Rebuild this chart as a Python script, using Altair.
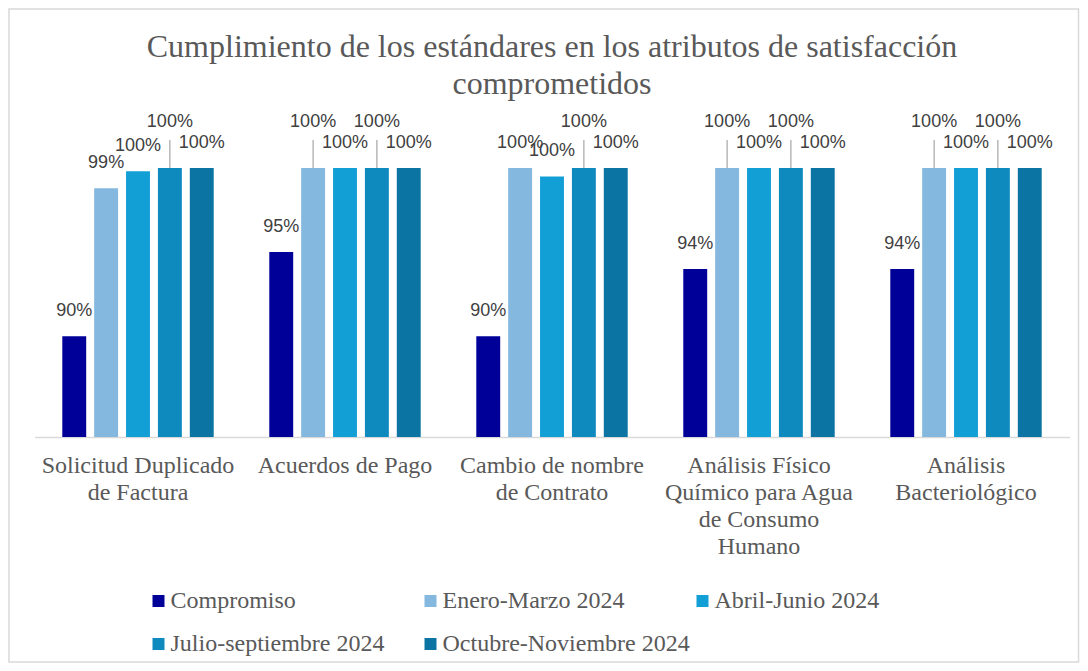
import altair as alt
import pandas as pd

# ---- data ----
categories = [
    "Solicitud Duplicado de Factura",
    "Acuerdos de Pago",
    "Cambio de nombre de Contrato",
    "Análisis Físico Químico para Agua de Consumo Humano",
    "Análisis Bacteriológico",
]
category_lines = [
    ["Solicitud Duplicado", "de Factura"],
    ["Acuerdos de Pago"],
    ["Cambio de nombre", "de Contrato"],
    ["Análisis Físico", "Químico para Agua", "de Consumo", "Humano"],
    ["Análisis", "Bacteriológico"],
]
series = [
    "Compromiso",
    "Enero-Marzo 2024",
    "Abril-Junio 2024",
    "Julio-septiembre 2024",
    "Octubre-Noviembre 2024",
]
compromiso = [90, 95, 90, 94, 94]
enero_marzo = [98.8, 100, 100, 100, 100]
abril_junio = [99.8, 100, 99.5, 100, 100]
julio_septiembre = [100, 100, 100, 100, 100]
octubre_noviembre = [100, 100, 100, 100, 100]

# which data labels are lifted above their neighbours (with a leader line)
label_lifted = [
    [False, False, False, True, False],
    [False, True, False, True, False],
    [False, False, False, True, False],
    [False, True, False, True, False],
    [False, True, False, True, False],
]

colors = ["#000099", "#85B8DF", "#129FD6", "#0E8ABE", "#0B74A3"]

values = [compromiso, enero_marzo, abril_junio, julio_septiembre, octubre_noviembre]
rows = []
for si, s in enumerate(series):
    for ci, c in enumerate(categories):
        rows.append({"categoria": c, "serie": s, "valor": values[si][ci],
                     "lifted": label_lifted[ci][si]})
df = pd.DataFrame(rows)

W, H = 1035, 269
PAD = {"left": 26.5, "top": 160, "right": 10, "bottom": 226}

# label expression for wrapped category names
expr = "datum.label"
for c, lines in zip(categories, category_lines):
    arr = "[" + ",".join("'" + l + "'" for l in lines) + "]"
    expr = f"datum.label == '{c}' ? {arr} : ({expr})"

x = alt.X("categoria:N", sort=categories, title=None,
          scale=alt.Scale(paddingInner=0.23, paddingOuter=0.115),
          axis=alt.Axis(labelExpr=expr, labelAngle=0, labelFont="Liberation Serif",
                        labelFontSize=24, labelColor="#595959", labelLineHeight=27,
                        labelPadding=16, labelLimit=400, ticks=False,
                        domainColor="#D9D9D9", domainWidth=1.5))
xo = alt.XOffset("serie:N", sort=series,
                 scale=alt.Scale(paddingInner=0.25, paddingOuter=0.125))
y = alt.Y("valor:Q", axis=None,
          scale=alt.Scale(domain=[84, 100], zero=False, nice=False, clamp=True))

base = alt.Chart(df).transform_calculate(pct="datum.valor / 100")

bars = base.mark_bar().encode(
    x=x, xOffset=xo, y=y,
    color=alt.Color("serie:N", sort=series,
                    scale=alt.Scale(domain=series, range=colors),
                    legend=alt.Legend(title=None, orient="none", legendX=112, legendY=421,
                                      direction="horizontal",
                                      columns=3, gridAlign="all", columnPadding=0,
                                      rowPadding=19, symbolType="square", symbolSize=144,
                                      symbolStrokeWidth=0, labelFont="Liberation Serif",
                                      labelFontSize=24, labelColor="#595959",
                                      labelOffset=0, labelLimit=400)),
)

label_common = dict(font="Liberation Sans", fontSize=18, color="#404040", baseline="middle")
labels_normal = base.transform_filter("!datum.lifted").mark_text(dy=-25, **label_common).encode(
    x=x, xOffset=xo, y=y, text=alt.Text("pct:Q", format=".0%"))
labels_lifted = base.transform_filter("datum.lifted").mark_text(dy=-46, **label_common).encode(
    x=x, xOffset=xo, y=y, text=alt.Text("pct:Q", format=".0%"))
leaders = base.transform_filter("datum.lifted").transform_calculate(v2="datum.valor").mark_rule(
    color="#A6A6A6", strokeWidth=1.2, y2Offset=-28).encode(
    x=x, xOffset=xo, y=y, y2="v2:Q")

frame = alt.Chart(pd.DataFrame({"f": [0]})).mark_rect(
    fillOpacity=0, stroke="#D9D9D9", strokeWidth=1.5).encode(
    x=alt.value(-25.5), x2=alt.value(W + PAD["right"] - 1),
    y=alt.value(-PAD["top"] + 1), y2=alt.value(H + PAD["bottom"] - 1))

chart = alt.layer(frame, bars, leaders, labels_normal, labels_lifted).properties(
    width=W, height=H,
    title=alt.TitleParams(
        text=["Cumplimiento de los estándares en los atributos de satisfacción", "comprometidos"],
        font="Liberation Serif", fontSize=32, fontWeight="normal", color="#595959",
        anchor="middle", lineHeight=37, offset=-93),
    autosize=alt.AutoSizeParams(type="none"),
    padding=PAD,
    background="white",
).configure_view(stroke="transparent", strokeWidth=0)

chart.save("out.html", embed_options={"renderer": "svg", "actions": False})
